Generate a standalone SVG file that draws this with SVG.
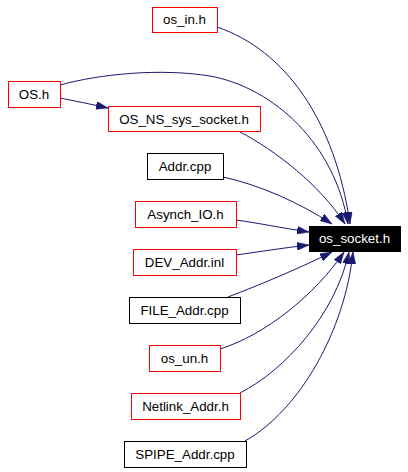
<svg xmlns="http://www.w3.org/2000/svg" width="408" height="472" viewBox="0 0 408 472">
<style>
.bg{fill:#ffffff}
.n rect{fill:#ffffff;stroke:#000000;stroke-width:1;shape-rendering:crispEdges}
.n.r rect{stroke:#ff0000}
.n text{font-family:"Liberation Sans",Arial,sans-serif;font-size:13.33px;text-anchor:middle;fill:#000000}
.n.sel rect{fill:#000000;stroke:#000000}
.n.sel text{fill:#ffffff}
.e path{fill:none;stroke:#191970;stroke-width:1;marker-end:url(#arr)}
</style>
<defs>
<marker id="arr" viewBox="0 0 12 8" markerWidth="12" markerHeight="8" refX="12" refY="4" orient="auto" markerUnits="userSpaceOnUse">
<path d="M0,0 L12,4 L0,8 z" fill="#191970" stroke="#191970" stroke-width="0.5"/>
</marker>
</defs>
<rect class="bg" x="0" y="0" width="408" height="472"/>
<g id="edges" class="e">
<path d="M217,27 C285,50 335,120 350,224"/>
<path d="M60,85 C100,74 160,68 210,76 C275,88 335,145 348,224"/>
<path d="M60,98 C75,101 90,104 108,108"/>
<path d="M240,132 C275,150 320,185 345,224"/>
<path d="M223,177 C260,185 300,203 332,224"/>
<path d="M236,220 C258,223 282,228 309,232"/>
<path d="M236,255 C258,252 282,248 309,245"/>
<path d="M228,297 C262,284 300,268 332,252"/>
<path d="M220,349 C265,335 315,295 344,252"/>
<path d="M240,393 C285,370 335,315 349,252"/>
<path d="M245,441 C300,410 345,330 353,252"/>
</g>
<g id="os_socket_h" class="n sel"><rect x="309" y="226" width="91" height="25"/><text x="354.5" y="243">os_socket.h</text></g>
<g id="os_in_h" class="n r"><rect x="152" y="7" width="65" height="25"/><text x="184.5" y="24">os_in.h</text></g>
<g id="OS_h" class="n r"><rect x="8" y="81" width="52" height="26"/><text x="34" y="98.5">OS.h</text></g>
<g id="OS_NS_sys_socket_h" class="n r"><rect x="108" y="106" width="152" height="25"/><text x="184" y="123.5">OS_NS_sys_socket.h</text></g>
<g id="Addr_cpp" class="n"><rect x="147" y="153" width="76" height="26"/><text x="185" y="170.5">Addr.cpp</text></g>
<g id="Asynch_IO_h" class="n r"><rect x="135" y="201" width="101" height="26"/><text x="185.5" y="218.5">Asynch_IO.h</text></g>
<g id="DEV_Addr_inl" class="n r"><rect x="133" y="249" width="103" height="26"/><text x="184.5" y="266.5">DEV_Addr.inl</text></g>
<g id="FILE_Addr_cpp" class="n"><rect x="129" y="297" width="111" height="26"/><text x="184.5" y="314.5">FILE_Addr.cpp</text></g>
<g id="os_un_h" class="n r"><rect x="149" y="345" width="71" height="26"/><text x="184.5" y="362.5">os_un.h</text></g>
<g id="Netlink_Addr_h" class="n r"><rect x="131" y="393" width="109" height="26"/><text x="185.5" y="410.5">Netlink_Addr.h</text></g>
<g id="SPIPE_Addr_cpp" class="n"><rect x="124" y="441" width="122" height="26"/><text x="185" y="458.5">SPIPE_Addr.cpp</text></g>
</svg>
